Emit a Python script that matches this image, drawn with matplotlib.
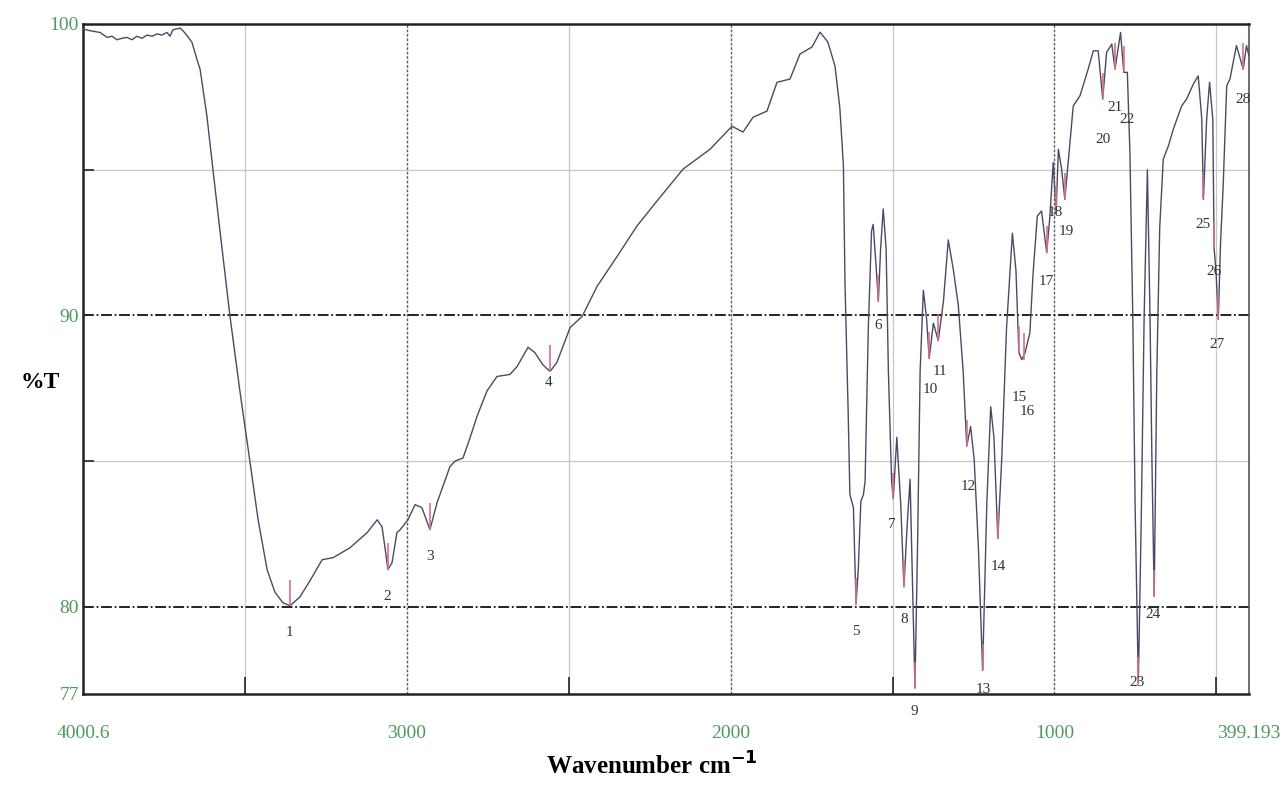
import matplotlib
matplotlib.use("Agg")
import matplotlib.pyplot as plt

# ---- spectrum data (wavenumber cm-1, %T) ----
wavenumber = [4000.6, 3979, 3948, 3926, 3911, 3896, 3880, 3865, 3849, 3834, 3818, 3803,
              3787, 3772, 3757, 3741, 3732, 3723, 3701, 3692, 3679, 3664, 3649, 3639,
              3618, 3599, 3577, 3547, 3516, 3485, 3460, 3432, 3408, 3383, 3361, 3330,
              3299, 3262, 3228, 3176, 3123, 3092, 3077, 3065, 3059, 3046, 3031, 3021,
              2997, 2975, 2954, 2929, 2907, 2867, 2851, 2827, 2805, 2784, 2753, 2722,
              2682, 2660, 2626, 2605, 2580, 2558, 2537, 2496, 2459, 2413, 2351, 2290,
              2228, 2147, 2064, 1996, 1962, 1931, 1888, 1857, 1817, 1786, 1749, 1724,
              1700, 1678, 1663, 1652, 1647, 1637, 1632, 1621, 1613, 1606, 1598, 1590,
              1585, 1575, 1565, 1560, 1551, 1544, 1537, 1529, 1520, 1513, 1503, 1498,
              1487, 1475, 1465, 1455, 1446, 1438, 1431, 1423, 1415, 1405, 1395, 1387,
              1374, 1359, 1343, 1328, 1312, 1297, 1282, 1271, 1259, 1248, 1235, 1222,
              1209, 1197, 1187, 1175, 1163, 1148, 1130, 1119, 1110, 1101, 1091, 1076,
              1066, 1053, 1040, 1024, 1014, 1004, 995, 988, 978, 968, 952, 942,
              921, 896, 880, 865, 851, 839, 823, 813, 796, 786, 775, 767,
              758, 751, 741, 732, 723, 713, 705, 699, 692, 684, 675, 664,
              648, 633, 607, 592, 571, 556, 545, 540, 530, 521, 511, 507,
              501, 494, 487, 479, 468, 458, 438, 417, 407, 399.193]
transmittance = [99.83, 99.77, 99.71, 99.54, 99.58, 99.46, 99.51, 99.54, 99.46, 99.58, 99.51, 99.62,
                 99.58, 99.66, 99.62, 99.71, 99.58, 99.80, 99.86, 99.77, 99.60, 99.37, 98.80, 98.45,
                 96.85, 94.98, 92.85, 90.00, 87.40, 84.98, 83.00, 81.27, 80.50, 80.13, 80.03, 80.34,
                 80.90, 81.61, 81.68, 82.02, 82.54, 82.98, 82.74, 81.80, 81.27, 81.51, 82.54, 82.64,
                 82.98, 83.50, 83.40, 82.64, 83.57, 84.81, 85.00, 85.10, 85.80, 86.52, 87.40, 87.90,
                 87.97, 88.24, 88.90, 88.72, 88.30, 88.07, 88.38, 89.58, 89.96, 90.99, 92.02, 93.06,
                 93.92, 95.02, 95.70, 96.49, 96.29, 96.80, 97.01, 98.00, 98.11, 98.97, 99.21, 99.72,
                 99.38, 98.56, 97.12, 95.16, 91.09, 86.56, 83.85, 83.40, 80.08, 81.28, 83.62, 83.85,
                 84.30, 89.58, 92.90, 93.12, 91.69, 90.48, 92.29, 93.65, 92.29, 88.07, 84.30, 83.70,
                 85.81, 83.54, 80.68, 82.80, 84.37, 80.53, 77.20, 82.04, 88.07, 90.86, 89.88, 88.52,
                 89.73, 89.13, 90.48, 92.59, 91.54, 90.33, 88.07, 85.51, 86.18, 85.05, 82.04, 77.81,
                 83.54, 86.86, 85.81, 82.34, 85.05, 89.58, 92.82, 91.54, 88.72, 88.48, 88.71, 89.40,
                 91.46, 93.41, 93.58, 92.15, 93.41, 95.25, 93.53, 95.70, 95.02, 93.98, 95.93, 97.19,
                 97.54, 98.45, 99.08, 99.08, 97.42, 99.03, 99.31, 98.45, 99.71, 98.34, 98.34, 95.59,
                 89.86, 83.50, 77.37, 83.00, 90.00, 95.00, 90.00, 85.00, 80.35, 88.00, 93.00, 95.36,
                 95.82, 96.39, 97.19, 97.42, 97.94, 98.22, 96.73, 93.98, 96.73, 98.00, 96.73, 92.30,
                 91.50, 89.86, 92.50, 94.44, 97.88, 98.11, 99.26, 98.45, 99.26, 98.90]

# ---- peak picks: label, dip wavenumber, dip %T, label position ----
peak_labels = [str(i) for i in range(1, 29)]
peak_wn = [3361, 3059, 2929, 2558, 1613, 1544, 1498, 1465, 1431, 1387, 1359, 1271, 1222, 1175,
           1110, 1095, 1024, 995, 968, 851, 813, 786, 741, 692, 540, 507, 494, 417]
peak_t = [80.03, 81.27, 82.64, 88.07, 80.08, 90.48, 83.70, 80.68, 77.20, 88.52, 89.13, 85.51, 77.81, 82.34,
          88.72, 88.48, 92.15, 93.53, 93.98, 97.42, 98.45, 98.34, 77.37, 80.35, 93.98, 92.30, 89.86, 98.45]
label_wn = [3364, 3062, 2929, 2564, 1613, 1545, 1502, 1465, 1434, 1385, 1354, 1267, 1221, 1175,
            1110, 1085, 1026, 996, 965, 850, 813, 776, 745, 696, 541, 507, 498, 418]
label_t = [79.10, 80.34, 81.71, 87.69, 79.13, 89.65, 82.81, 79.55, 76.39, 87.45, 88.07, 84.12, 77.14, 81.37,
           87.18, 86.70, 91.17, 93.54, 92.88, 96.05, 97.15, 96.73, 77.38, 79.72, 93.13, 91.51, 89.00, 97.42]

x_ticks = [4000.6, 3000, 2000, 1000, 399.193]
x_tick_labels = ["4000.6", "3000", "2000", "1000", "399.193"]
y_ticks = [77, 80, 90, 100]
y_tick_labels = ["77", "80", "90", "100"]

SERIF = ["Liberation Serif", "DejaVu Serif"]
GREEN = "#4f9a5c"

fig = plt.figure(figsize=(12.83, 7.91), dpi=100)
ax = fig.add_axes([83 / 1283, 97 / 791, 1166 / 1283, 670 / 791])
ax.set_xlim(4000.6, 399.193)
ax.set_ylim(77, 100)

# grid lines
for gx in [3500, 2500, 1500, 500]:
    ax.axvline(gx, color="#c8c8c8", lw=0.9, zorder=1)
for gx in [3000, 2000, 1000]:
    ax.axvline(gx, color="#606060", lw=1.0, ls=(0, (2, 1.2)), zorder=1)
for gy in [95, 85]:
    ax.axhline(gy, color="#c8c8c8", lw=0.9, zorder=1)
for gy in [90, 80]:
    ax.axhline(gy, color="#111111", lw=1.3, ls=(0, (6, 1.5, 1, 1.5)), zorder=1)

# spectrum
ax.plot(wavenumber, transmittance, color="#4a4a66", lw=1.0, zorder=3)

# peak picks
for lab, pw, pt, lw_, lt in zip(peak_labels, peak_wn, peak_t, label_wn, label_t):
    ax.plot([pw, pw], [pt + 0.9, pt], color="#d7708c", lw=1.2, zorder=4, solid_capstyle="butt")
    ax.text(lw_, lt, lab, ha="center", va="center", fontsize=11, color="#333333",
            family=SERIF, zorder=5, clip_on=False)

# ticks
ax.set_xticks(x_ticks)
ax.set_xticklabels(x_tick_labels)
ax.set_yticks(y_ticks)
ax.set_yticklabels(y_tick_labels)
ax.tick_params(axis="both", length=0, colors=GREEN, labelsize=14)
ax.tick_params(axis="x", pad=22)
ax.tick_params(axis="y", pad=3)
for t in ax.get_xticklabels() + ax.get_yticklabels():
    t.set_family(SERIF)
    t.set_color(GREEN)

ax.set_xticks([3500, 2500, 1500, 500], minor=True)
ax.set_yticks([95, 85], minor=True)
ax.tick_params(axis="x", which="minor", direction="in", length=12, width=1.2, color="#222222")
ax.tick_params(axis="y", which="minor", direction="in", length=8, width=1.2, color="#222222")

for s in ax.spines.values():
    s.set_color("#222222")
    s.set_linewidth(1.8)
ax.spines["right"].set_color("#555555")
ax.spines["right"].set_linewidth(1.2)

fig.text(40 / 1283, 1 - 382 / 791, "%T", ha="center", va="center", fontsize=17,
         fontweight="bold", family=SERIF)
fig.text(652 / 1283, 1 - 766 / 791, r"Wavenumber cm$^{\mathbf{-1}}$", ha="center", va="center",
         fontsize=18, fontweight="bold", family=SERIF)

fig.savefig("out.png", dpi=100)
